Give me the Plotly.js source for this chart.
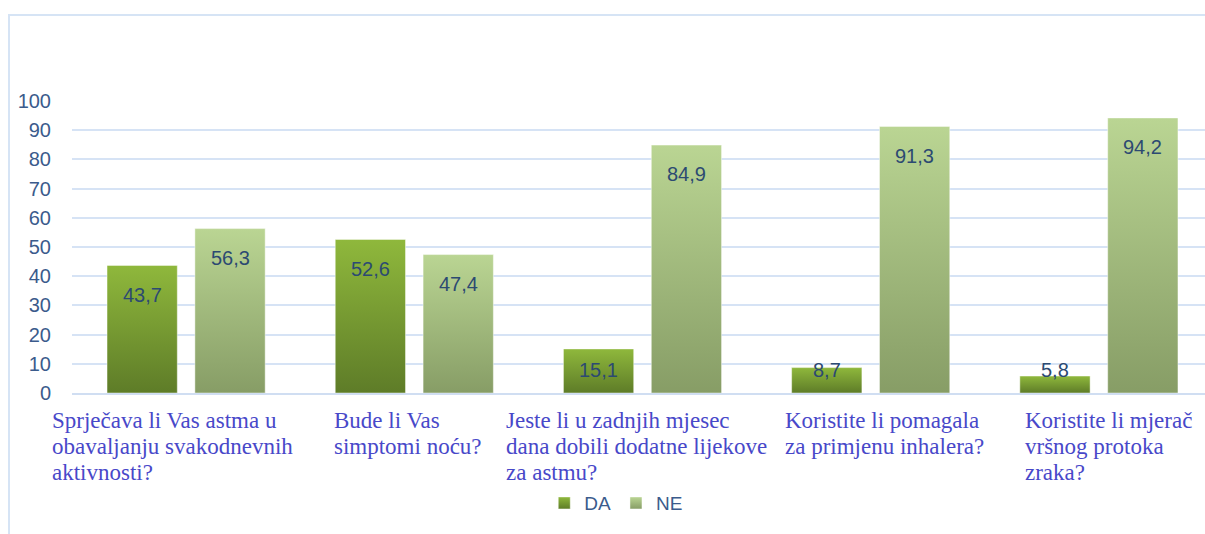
<!DOCTYPE html>
<html>
<head>
<meta charset="utf-8">
<script src="https://cdn.plot.ly/plotly-3.0.1.min.js"></script>
<style>
  html, body { margin: 0; padding: 0; width: 1205px; height: 534px; overflow: hidden; background: #fff; }
  #topline { position: absolute; left: 8px; top: 14px; width: 1197px; height: 2px; background: #d6e4f5; }
  #leftline { position: absolute; left: 8px; top: 14px; width: 2px; height: 520px; background: #d6e4f5; }
  #wrap { position: absolute; left: 0; top: 0; width: 1205px; height: 534px; overflow: hidden; }
  #chart { position: absolute; left: 0; top: 0; width: 1230px; height: 534px; }
</style>
</head>
<body>
<div id="topline"></div>
<div id="leftline"></div>
<div id="wrap"><div id="chart"></div></div>
<script>
// ---- data ----
const categories = [
  "Sprječava li Vas astma u<br>obavaljanju svakodnevnih<br>aktivnosti?",
  "Bude li Vas<br>simptomi noću?",
  "Jeste li u zadnjih mjesec<br>dana dobili dodatne lijekove<br>za astmu?",
  "Koristite li pomagala<br>za primjenu inhalera?",
  "Koristite li mjerač<br>vršnog protoka<br>zraka?"
];
const seriesNames = ["DA", "NE"];
const valuesDA = [43.7, 52.6, 15.1, 8.7, 5.8];
const valuesNE = [56.3, 47.4, 84.9, 91.3, 94.2];
const yTicks = [0, 10, 20, 30, 40, 50, 60, 70, 80, 90, 100];

// ---- style ----
const idx = categories.map((_, i) => i);
const labelShift = [-22, 31.5, -24.5, 26.5, 38.5];
const lineStep = 26;
const fmt = v => v.toFixed(1).replace('.', ',');
const tickColor = '#3b5b8c';
const valColor = '#2c4a72';
const catColor = '#4848c9';

const traces = [
  { type: 'bar', name: seriesNames[0], x: idx, y: valuesDA,
    marker: { color: '#7a9c33', line: { color: 'rgba(255,255,255,0.45)', width: 1 } },
    hoverinfo: 'none' },
  { type: 'bar', name: seriesNames[1], x: idx, y: valuesNE,
    marker: { color: '#a3bb7c', line: { color: 'rgba(255,255,255,0.45)', width: 1 } },
    hoverinfo: 'none' }
];

const annotations = [];
const half = (1 - 0.23) / 4; // slot centre offset for grouped bars
[valuesDA, valuesNE].forEach((vals, s) => {
  vals.forEach((v, i) => {
    annotations.push({
      x: i + (s === 0 ? -half : half), y: Math.max(v - 10, 7.9),
      xref: 'x', yref: 'y', text: fmt(v), showarrow: false,
      yanchor: 'middle', xanchor: 'center',
      font: { family: 'Liberation Sans, Arial, sans-serif', size: 20, color: valColor }
    });
  });
});
categories.forEach((c, i) => {
  c.split('<br>').forEach((line, k) => {
    annotations.push({
      x: i - 0.5, y: 0, xref: 'x', yref: 'y', text: line, showarrow: false,
      xanchor: 'left', yanchor: 'middle', align: 'left',
      xshift: labelShift[i], yshift: -27 - k * lineStep,
      font: { family: 'Liberation Serif, Times New Roman, serif', size: 23, color: catColor }
    });
  });
});

const layout = {
  width: 1230, height: 534,
  margin: { l: 72, r: 17, t: 101, b: 141, pad: 0 },
  paper_bgcolor: 'rgba(0,0,0,0)', plot_bgcolor: 'rgba(0,0,0,0)',
  bargap: 0.23, bargroupgap: 0.2, barmode: 'group',
  showlegend: true,
  legend: {
    orientation: 'h', x: 0.477, xanchor: 'center', y: -0.377, yanchor: 'middle',
    font: { family: 'Liberation Sans, Arial, sans-serif', size: 19, color: tickColor },
    itemwidth: 30, traceorder: 'normal'
  },
  xaxis: {
    type: 'linear', range: [-0.5, categories.length - 0.5],
    showticklabels: false, showgrid: false, zeroline: false,
    showline: true, linecolor: '#d0def2', linewidth: 2, ticks: ''
  },
  yaxis: {
    range: [0, 100], tickvals: yTicks, ticktext: yTicks.map(String),
    showgrid: true, gridcolor: '#d6e3f5', gridwidth: 2,
    zeroline: false, showline: false, ticks: '',
    ticklabelstandoff: 20,
    tickfont: { family: 'Liberation Sans, Arial, sans-serif', size: 20, color: tickColor }
  },
  annotations: annotations
};

function applyGradients(gd) {
  const svg = gd.querySelector('svg.main-svg');
  if (!svg) return;
  const ns = 'http://www.w3.org/2000/svg';
  let defs = svg.querySelector('defs');
  if (!defs) { defs = document.createElementNS(ns, 'defs'); svg.insertBefore(defs, svg.firstChild); }
  const grads = [
    { id: 'gDA', top: '#8fb83c', bot: '#5e7c28' },
    { id: 'gNE', top: '#bad593', bot: '#879d66' }
  ];
  grads.forEach(g => {
    if (defs.querySelector('#' + g.id)) return;
    const lg = document.createElementNS(ns, 'linearGradient');
    lg.setAttribute('id', g.id);
    lg.setAttribute('x1', '0'); lg.setAttribute('y1', '0');
    lg.setAttribute('x2', '0'); lg.setAttribute('y2', '1');
    [[0, g.top], [1, g.bot]].forEach(([o, c]) => {
      const st = document.createElementNS(ns, 'stop');
      st.setAttribute('offset', o); st.setAttribute('stop-color', c);
      lg.appendChild(st);
    });
    defs.appendChild(lg);
  });
  gd.querySelectorAll('.barlayer .trace.bars').forEach((tr, t) => {
    tr.querySelectorAll('path').forEach(p => { p.style.fill = 'url(#' + grads[t].id + ')'; });
  });
  gd.querySelectorAll('.legend .traces').forEach((tr, t) => {
    tr.querySelectorAll('.legendpoints path').forEach(p => { p.style.fill = 'url(#' + grads[t].id + ')'; });
  });
}

const gd = document.getElementById('chart');
Plotly.newPlot(gd, traces, layout, { displayModeBar: false, staticPlot: true }).then(() => {
  applyGradients(gd);
  gd.on && gd.on('plotly_afterplot', () => applyGradients(gd));
});
</script>
</body>
</html>
